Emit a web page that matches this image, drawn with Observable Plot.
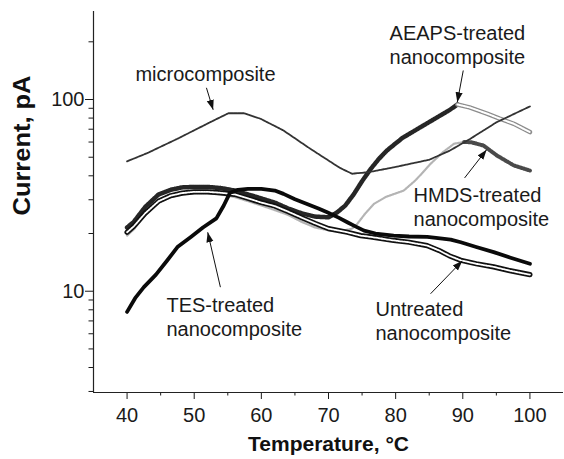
<!DOCTYPE html>
<html>
<head>
<meta charset="utf-8">
<script src="https://cdn.jsdelivr.net/npm/d3@7"></script>
<script src="https://cdn.jsdelivr.net/npm/@observablehq/plot@0.6"></script>
<style>
  html, body { margin: 0; padding: 0; background: #fff; }
  #chart { width: 564px; height: 459px; }
</style>
</head>
<body>
<div id="chart"></div>
<script>
// ---- Data (temperature in °C, current in pA) ----
const microT = [40, 43, 47.5, 52.4, 55.1, 57.4, 59.9, 63.3, 67.3, 71.7, 73.5, 76, 80, 85, 88, 91, 95, 100];
const microV = [47.6, 52.5, 62.4, 76.2, 84.8, 84.8, 79.3, 68.9, 55.3, 44.0, 41.0, 41.8, 44.5, 48.5, 54, 62, 76, 92];

const tesT = [40, 41.2, 42.5, 44.3, 46, 47.5, 49.5, 51.3, 53.3, 54.4, 55.3, 56.5, 58, 60, 62, 63.3, 65, 66.8, 68.5, 69.8, 71.5, 72.8, 74, 75.3, 77, 79.7, 82, 84.7, 86, 88.2, 89.7, 92, 94.6, 97, 100];
const tesV = [7.8, 9.2, 10.5, 12.2, 14.5, 17, 19.2, 21.5, 24, 28, 32.5, 33.8, 34.2, 34.2, 33.5, 32.2, 30.2, 28.5, 27, 25.8, 24.2, 22.9, 21.8, 20.7, 20, 19.5, 19.3, 19.2, 19, 18.6, 18, 17, 16, 15, 13.9];

const untrT = [40, 41, 42.7, 44.7, 46.5, 48.2, 50, 52, 54, 56, 58, 60, 62, 64, 66, 68, 70, 72.8, 74.8, 76.3, 79.7, 82, 84.7, 86.5, 88, 89.7, 92, 94.6, 97, 100];
const untrV = [20.3, 21.8, 25.5, 29.5, 31.5, 32.5, 33, 33, 32.6, 32, 30.5, 29, 27.8, 26, 24.2, 22.6, 21.2, 20.3, 19.5, 19.2, 18.4, 18, 17.3, 16.3, 15.3, 14.5, 13.9, 13.4, 12.8, 12.2];

const aeapsT = [40, 41, 42.7, 44.7, 46.5, 48.2, 50, 52, 54, 56, 58, 60, 62, 64, 66, 68, 70, 71.3, 72.5, 73.8, 75, 76.3, 77.5, 78.7, 81, 83.7, 86, 88, 89.2, 91, 93.7, 95.5, 97.6, 100];
const aeapsV = [21.5, 23, 27.5, 32, 33.8, 34.8, 35, 35, 34.5, 33.5, 32, 30.5, 29, 27, 25.5, 24.5, 24.3, 25.8, 28, 32.2, 37.5, 43.5, 49, 54.2, 63, 71.7, 80, 88, 94.2, 91, 84.2, 79.5, 74.7, 67.6];

const hmdsT = [40, 41, 42.7, 44.7, 46.5, 48.2, 50, 52, 54, 56, 58, 60, 62, 64, 66, 68, 70, 72, 73.5, 74.3, 75.5, 76.8, 78.5, 81.2, 83, 85.2, 87, 88.7, 90.2, 91.2, 93.1, 95.1, 97.6, 100];
const hmdsV = [19.5, 21, 25, 29, 31, 32, 32.5, 32.5, 32, 31, 29.5, 28, 26.5, 25, 23, 21.5, 20.8, 20.6, 21.2, 22.5, 25.5, 28.6, 31, 33.5, 38, 46.2, 53, 58.8, 60, 59.9, 57.5, 51, 45.3, 42.6];

// ---- Ticks ----
const xMajorTicks = [40, 50, 60, 70, 80, 90, 100];
const xMinorTicks = [45, 55, 65, 75, 85, 95];
const yMajorTicks = [10, 100];
const yMinorTicks = [3, 4, 5, 6, 7, 8, 9, 20, 30, 40, 50, 60, 70, 80, 90, 200];

// ---- Annotations ----
const annLabels = ["microcomposite", "AEAPS-treated\nnanocomposite", "HMDS-treated\nnanocomposite", "TES-treated\nnanocomposite", "Untreated\nnanocomposite"];
const annT = [41.25, 79.1, 82.67, 45.86, 77.0];
const annV = [137.8, 193.9, 27.8, 7.44, 7.05];
const arrowTailT = [51.82, 90.07, 90.27, 53.9, 85.2];
const arrowTailV = [115.1, 141.7, 39.0, 10.5, 9.7];
const arrowTipT = [52.82, 89.18, 93.55, 52.01, 89.93];
const arrowTipV = [88.4, 96.8, 54.7, 20.3, 14.4];

const xLabel = "Temperature, °C";
const yLabel = "Current, pA";

// ---- Build tables ----
const rows = (T, V) => T.map((t, i) => ({t, v: V[i]}));
const micro = rows(microT, microV);
const tes = rows(tesT, tesV);
const untr = rows(untrT, untrV);
const aeaps = rows(aeapsT, aeapsV);
const hmds = rows(hmdsT, hmdsV);
function splitAtMax(r) {
  const k = d3.maxIndex(r, d => d.v);
  return [r.slice(0, k + 1), r.slice(k)];
}
const [aeapsUp, aeapsDown] = splitAtMax(aeaps);
const [hmdsUp, hmdsDown] = splitAtMax(hmds);
const ann = annLabels.map((label, i) => ({label, t: annT[i], v: annV[i]}));
const arrows = arrowTailT.map((_, i) => ({t1: arrowTailT[i], v1: arrowTailV[i], t2: arrowTipT[i], v2: arrowTipV[i]}));

const xy = {x: "t", y: "v"};
const font = "'Liberation Sans', Arial, Helvetica, sans-serif";

const chart = Plot.plot({
  width: 564,
  height: 459,
  marginLeft: 93,
  marginRight: 1,
  marginTop: 11,
  marginBottom: 67,
  style: {fontFamily: font, fontSize: "20px", color: "#1a1a1a", background: "#fff", overflow: "visible"},
  x: {domain: [35, 105]},
  y: {type: "log", domain: [2.963, 287.8]},
  marks: [
    Plot.axisX(xMajorTicks, {tickSize: 7, tickPadding: 8, label: null, tickFormat: d => String(d), fontSize: 20}),
    Plot.axisX(xMinorTicks, {tickSize: 3.5, label: null, tickFormat: () => ""}),
    Plot.axisY(yMajorTicks, {tickSize: 8, tickPadding: 1, label: null, tickFormat: d => String(d), fontSize: 20}),
    Plot.axisY(yMinorTicks, {tickSize: 4.5, label: null, tickFormat: () => ""}),
    Plot.ruleX([35], {stroke: "#222", strokeWidth: 1.2}),
    Plot.ruleY([2.963], {stroke: "#222", strokeWidth: 1.2}),

    // HMDS
    Plot.line(hmdsUp, {...xy, stroke: "#b4b4b4", strokeWidth: 2.2, strokeDasharray: "1,1"}),
    Plot.line(hmdsDown, {...xy, stroke: "#4a4a4a", strokeWidth: 4, strokeDasharray: "1,1.2"}),
    // AEAPS
    Plot.line(aeapsUp, {...xy, stroke: "#262626", strokeWidth: 4.5, strokeDasharray: "1.3,0.8"}),
    Plot.line(aeapsDown, {...xy, stroke: "#8c8c8c", strokeWidth: 4.5}),
    Plot.line(aeapsDown, {...xy, stroke: "#fff", strokeWidth: 2, strokeDasharray: "1.5,0.8"}),
    // Untreated (open markers)
    Plot.line(untr, {...xy, stroke: "#111", strokeWidth: 5.2}),
    Plot.line(untr, {...xy, stroke: "#fff", strokeWidth: 1.8, strokeDasharray: "1.6,1"}),
    // TES
    Plot.line(tes, {...xy, stroke: "#0a0a0a", strokeWidth: 3.8}),
    // microcomposite
    Plot.line(micro, {...xy, stroke: "#333", strokeWidth: 1.8, strokeDasharray: "3,0.8"}),

    // annotations
    Plot.link(arrows, {x1: "t1", y1: "v1", x2: "t2", y2: "v2", stroke: "#111", strokeWidth: 1}),
    Plot.text(ann, {x: "t", y: "v", text: "label", textAnchor: "start", lineAnchor: "middle", lineHeight: 1.2, fontSize: 20, fill: "#1a1a1a"}),

    // axis titles
    Plot.text([xLabel], {frameAnchor: "bottom", text: d => d, lineAnchor: "middle", dy: 51.3, fontWeight: "bold", fontSize: 21, fill: "#111"}),
    Plot.text([yLabel], {frameAnchor: "left", text: d => d, rotate: -90, lineAnchor: "middle", dx: -70.4, dy: 13.5, fontWeight: "bold", fontSize: 23, fill: "#111"})
  ]
});

// filled arrowheads on the annotation links
const ns = "http://www.w3.org/2000/svg";
const defs = document.createElementNS(ns, "defs");
const marker = document.createElementNS(ns, "marker");
marker.setAttribute("id", "ahead");
marker.setAttribute("viewBox", "-10 -5 10 10");
marker.setAttribute("markerWidth", "10");
marker.setAttribute("markerHeight", "10");
marker.setAttribute("markerUnits", "userSpaceOnUse");
marker.setAttribute("orient", "auto");
marker.setAttribute("refX", "0");
marker.setAttribute("refY", "0");
const mp = document.createElementNS(ns, "path");
mp.setAttribute("d", "M-10,-3.6L0,0L-10,3.6Z");
mp.setAttribute("fill", "#111");
marker.appendChild(mp);
defs.appendChild(marker);
chart.insertBefore(defs, chart.firstChild);
chart.querySelectorAll('g[aria-label="link"] path, g[aria-label="link"] line').forEach(p => p.setAttribute("marker-end", "url(#ahead)"));

// stretch the y title to the reference's length
chart.querySelectorAll("text").forEach(t => {
  if (t.textContent === yLabel) {
    t.setAttribute("textLength", "140");
    t.setAttribute("lengthAdjust", "spacingAndGlyphs");
  }
});

document.getElementById("chart").appendChild(chart);
</script>
</body>
</html>
